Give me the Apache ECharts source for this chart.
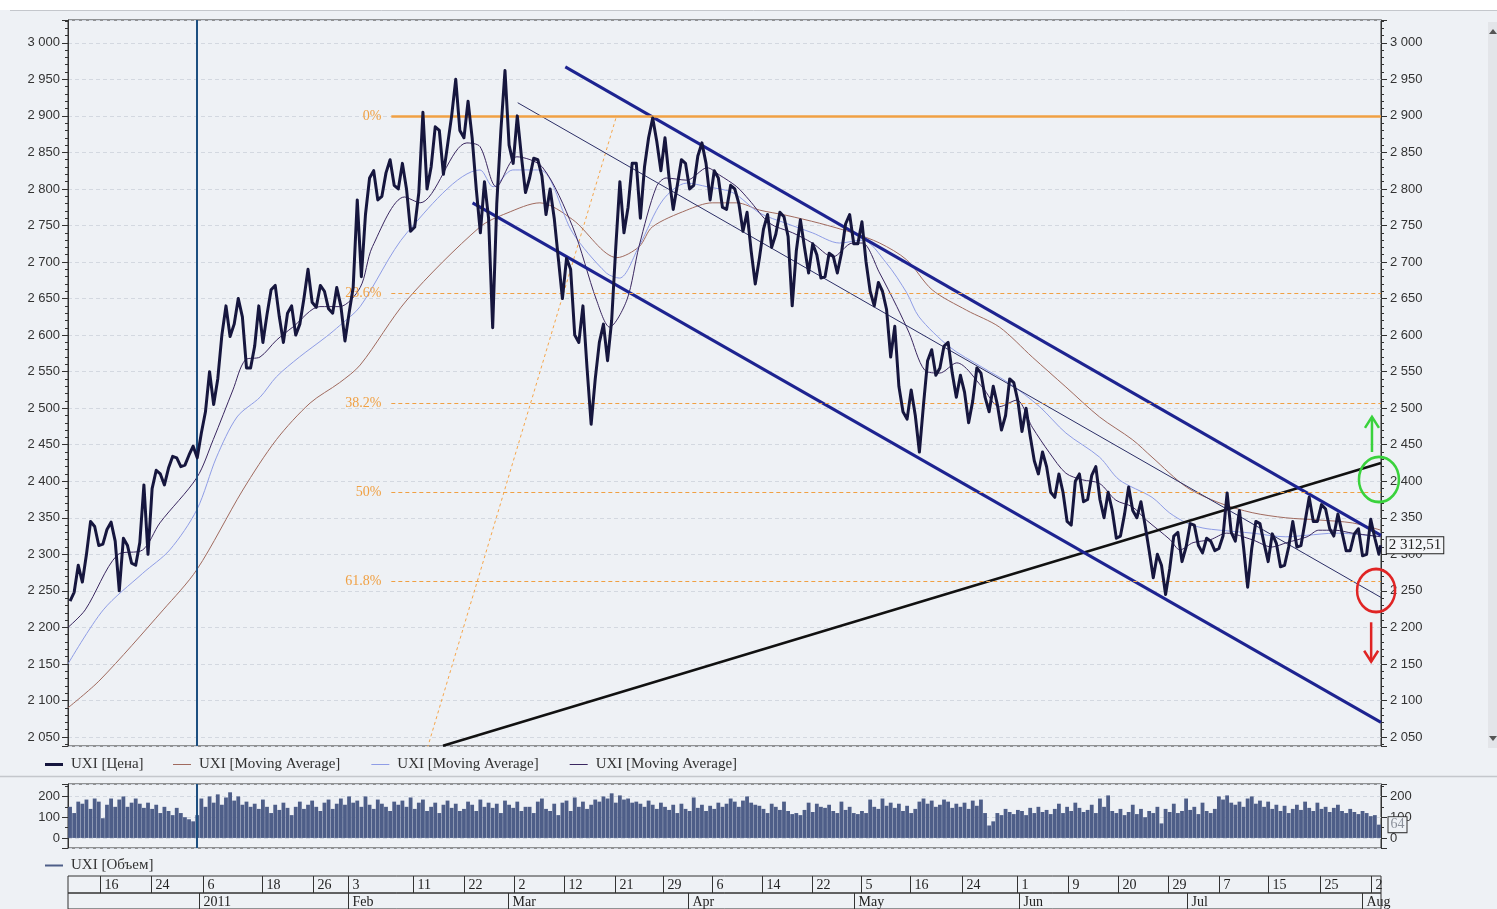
<!DOCTYPE html>
<html>
<head>
<meta charset="utf-8">
<title>UXI</title>
<script src="https://cdn.jsdelivr.net/npm/echarts@6/dist/echarts.min.js"></script>
<style>
  html, body { margin: 0; padding: 0; background: #eef1f5; }
  #chart { width: 1497px; height: 909px; }
</style>
</head>
<body>
<div id="chart"></div>
<script>
// x = bar number (about one trading day per unit), 0 .. 160
const dayLow = [
  2236, 2262, 2300, 2312, 2314, 2318, 2250, 2288, 2285, 2300,
  2390, 2395, 2418, 2420, 2422, 2432, 2466, 2505, 2540, 2598,
  2615, 2555, 2555, 2590, 2628, 2625, 2590, 2600, 2615, 2645,
  2638, 2636, 2630, 2592, 2630, 2680, 2765, 2785, 2790, 2805,
  2800, 2742, 2748, 2800, 2830, 2820, 2860, 2880, 2870, 2800,
  2740, 2610, 2780, 2860, 2835, 2795, 2815, 2818, 2765, 2705,
  2650, 2600, 2590, 2478, 2540, 2565, 2620, 2740, 2775, 2760,
  2830, 2865, 2825, 2772, 2805, 2800, 2805, 2835, 2785, 2775,
  2772, 2780, 2742, 2670, 2705, 2720, 2738, 2735, 2640, 2720,
  2685, 2678, 2680, 2685, 2712, 2725, 2725, 2660, 2640, 2635,
  2570, 2495, 2485, 2440, 2505, 2545, 2555, 2548, 2515, 2480,
  2510, 2515, 2495, 2470, 2490, 2510, 2468, 2428, 2410, 2385,
  2378, 2345, 2340, 2372, 2375, 2375, 2350, 2322, 2325, 2360,
  2350, 2305, 2268, 2245, 2280, 2290, 2310, 2312, 2302, 2305,
  2308, 2330, 2318, 2255, 2308, 2315, 2290, 2283, 2285, 2310,
  2312, 2345, 2345, 2335, 2325, 2305, 2305, 2298, 2300, 2300
];
const dayHigh = [
  2248, 2285, 2345, 2338, 2334, 2344, 2322, 2312, 2316, 2395,
  2415, 2410, 2434, 2432, 2436, 2448, 2495, 2550, 2600, 2640,
  2650, 2625, 2585, 2640, 2662, 2668, 2630, 2640, 2650, 2690,
  2668, 2660, 2665, 2640, 2665, 2785, 2815, 2825, 2822, 2840,
  2835, 2800, 2795, 2905, 2885, 2880, 2900, 2950, 2920, 2870,
  2810, 2760, 2880, 2962, 2900, 2845, 2842, 2840, 2800, 2760,
  2705, 2690, 2640, 2555, 2590, 2615, 2720, 2810, 2835, 2835,
  2870, 2897, 2870, 2815, 2840, 2835, 2845, 2863, 2825, 2815,
  2805, 2800, 2768, 2715, 2745, 2765, 2768, 2762, 2715, 2758,
  2725, 2710, 2712, 2708, 2752, 2765, 2755, 2700, 2672, 2660,
  2612, 2530, 2525, 2490, 2565, 2580, 2585, 2590, 2545, 2522,
  2555, 2548, 2530, 2505, 2540, 2535, 2500, 2462, 2440, 2420,
  2410, 2385, 2400, 2410, 2408, 2420, 2385, 2360, 2355, 2392,
  2372, 2340, 2300, 2285, 2325, 2330, 2342, 2340, 2322, 2318,
  2325, 2384, 2360, 2310, 2345, 2342, 2328, 2315, 2310, 2345,
  2345, 2378, 2368, 2362, 2355, 2330, 2328, 2335, 2348, 2322
];
const lastPrice = 2312.51;

// moving averages, [bar, value]
const maSlow = [
  [0, 2090], [3.9, 2128], [11.6, 2224], [15.7, 2279], [21.3, 2388], [25.4, 2457],
  [29.5, 2507], [33.1, 2535], [35.6, 2559], [41.3, 2648], [50.2, 2748], [53.5, 2767],
  [57.5, 2781], [61.5, 2758], [66.9, 2706], [69.6, 2721], [71.2, 2748], [75.4, 2771],
  [78.5, 2781], [81.5, 2781], [84.3, 2771], [87.5, 2764], [91.6, 2753], [95.6, 2740],
  [98.9, 2726], [102.2, 2703], [105.3, 2662], [109.5, 2634], [113.5, 2611], [117.5, 2570],
  [121.6, 2529], [125.7, 2488], [129.7, 2457], [132.1, 2433], [136.3, 2392], [140.4, 2370],
  [144.3, 2357], [148.4, 2350], [152.4, 2347], [156.5, 2343], [160, 2333]
];
const maMid = [
  [0, 2150], [4.3, 2224], [9.1, 2274], [12.4, 2306], [15.7, 2361], [18.1, 2433],
  [20.6, 2488], [23.4, 2515], [25.4, 2543], [28.2, 2570], [31.5, 2598], [33.1, 2613],
  [35.6, 2639], [41.3, 2740], [50.2, 2826], [51.8, 2803], [54.2, 2826], [57.5, 2826],
  [61.5, 2740], [65.6, 2685], [67.2, 2678], [69.6, 2722], [72.5, 2785], [75.4, 2808],
  [77.9, 2803], [81.0, 2795], [84.3, 2767], [87.5, 2753], [90.7, 2740], [94.0, 2726],
  [96.8, 2730], [99.7, 2699], [102.2, 2658], [103.7, 2625], [107.4, 2584], [111.4, 2556],
  [114.7, 2534], [118.4, 2502], [121.6, 2466], [125.7, 2433], [128.1, 2402], [132.1, 2378],
  [134.2, 2357], [136.3, 2343], [138.3, 2336], [140.4, 2333], [144.3, 2329], [148.4, 2324],
  [150.9, 2326], [154.5, 2329], [160, 2324]
];
const maFast = [
  [0, 2200], [2.1, 2224], [6.0, 2299], [9.1, 2306], [11.2, 2343], [15.7, 2405],
  [17.7, 2457], [20.1, 2525], [21.6, 2566], [23.4, 2570], [25.4, 2593], [27.4, 2611],
  [30.7, 2639], [33.1, 2639], [35.6, 2665], [37.1, 2721], [41.0, 2789], [42.9, 2781],
  [48.6, 2863], [50.2, 2858], [52.2, 2803], [54.7, 2844], [57.8, 2830], [61.5, 2748],
  [64.4, 2648], [66.0, 2611], [68.1, 2648], [69.6, 2722], [71.7, 2803], [72.9, 2815],
  [75.4, 2812], [77.9, 2829], [79.4, 2819], [81.5, 2803], [83.0, 2785], [85.5, 2753],
  [88.3, 2740], [90.7, 2726], [93.2, 2707], [95.6, 2726], [96.8, 2726], [98.9, 2685],
  [101.0, 2639], [102.5, 2603], [104.4, 2552], [106.2, 2548], [108.3, 2562], [111.4, 2529],
  [113.5, 2502], [115.6, 2511], [117.5, 2474], [119.6, 2439], [121.6, 2411], [123.6, 2402],
  [125.7, 2397], [127.7, 2374], [129.7, 2365], [131.4, 2347], [134.3, 2320], [135.5, 2306],
  [137.1, 2316], [139.2, 2320], [141.2, 2329], [144.3, 2320], [146.7, 2310], [148.5, 2316],
  [151.0, 2324], [152.4, 2333], [154.4, 2333], [156.5, 2329], [160, 2324]
];

// volume, two bars per unit
const volume = [
  150, 120, 175, 165, 185, 140, 190, 175,  95, 160, 190, 150, 185, 200, 150, 170,
  190, 165, 145, 170, 140, 160, 120, 150, 130, 110, 145, 120, 100,  90,  80, 110,
  190, 150, 200, 170, 210, 160, 195, 220, 180, 200, 160, 175, 150, 165, 140, 185,
  150, 120, 160, 135, 170, 145, 110, 150, 175, 140, 160, 180, 150, 130, 170, 185,
  140, 165, 190, 160, 200, 170, 180, 150, 200, 160, 140, 185, 165, 150, 130, 175,
  160, 180, 150, 195, 140, 170, 185, 130, 150, 170, 120, 160, 180, 145, 165, 130,
  140, 175, 160, 130, 185, 150, 170, 145, 165, 120, 180, 160, 145, 175, 130, 150,
  150, 120, 175, 190, 140, 130, 165, 110, 170, 180, 130, 195, 150, 175, 140, 160,
  185, 175, 200, 190, 215, 170, 205, 185, 190, 170, 175, 165, 150, 180, 160, 140,
  170, 150, 135, 160, 120, 165, 140, 130, 195, 145, 160, 130, 155, 140, 170, 150,
  165, 190, 175, 150, 180, 200, 170, 160, 155, 140, 120, 165, 150, 135, 175, 130,
  115, 120, 110, 135, 170, 125, 165, 150, 145, 160, 130, 120, 175, 135, 150, 120,
  115, 130, 120, 185, 150, 140, 190, 155, 170, 145, 165, 130, 155, 120, 140, 175,
  190, 165, 180, 150, 160, 185, 175, 145, 165, 150, 170, 140, 180, 155, 185, 120,
   60,  80, 120, 110, 140, 125, 115, 135, 130, 110, 145, 120, 150, 125, 135, 115,
  140, 165, 120, 150, 130, 170, 145, 125, 135, 160, 120, 190, 150, 205, 130, 120,
  140, 110, 125, 160, 115, 140, 100, 130, 120, 150,  70, 140, 125, 165, 120, 130,
  190, 135, 150, 115, 170, 130, 120, 140, 200, 185, 205, 170, 160, 175, 150, 190,
  200, 165, 180, 150, 175, 140, 160, 130, 155, 120, 140, 160, 135, 175, 145, 130,
  170, 140, 150, 125, 145, 160, 130, 120, 140, 125, 115, 130, 120, 105, 110,  64
];

// drawn lines, [bar, value] end points
const channelUpper = [[60.6, 2967], [160, 2326]];
const channelLower = [[49.3, 2781], [160, 2070]];
const channelMid = [[54.8, 2918], [160, 2241]];
const supportLine = [[45.7, 2038], [160, 2425]];
const fibDiagonal = [[39.4, 1870], [66.85, 2900]];
const fibLevels = [['0%', 2900], ['23.6%', 2657], ['38.2%', 2506.5], ['50%', 2385], ['61.8%', 2263.5]];
const signalCircles = [[159.75, 2402.5], [159.4, 2250.5]];
const signalArrows = [[158.9, 2440, 2488], [158.8, 2207, 2153]];
const yearLine = 15.7;

// date band
const dayTicks = [
  [3.9, '16'], [10.1, '24'], [16.4, '6'], [23.7, '18'], [29.8, '26'], [34.1, '3'],
  [42.0, '11'], [48.2, '22'], [54.4, '2'], [60.5, '12'], [66.6, '21'], [72.5, '29'],
  [78.5, '6'], [84.6, '14'], [90.7, '22'], [96.6, '5'], [102.6, '16'], [108.9, '24'],
  [115.7, '1'], [121.9, '9'], [128.0, '20'], [134.1, '29'], [140.2, '7'], [146.2, '15'],
  [152.6, '25'], [158.8, '2']
];
const monthTicks = [
  [16.0, '2011'], [34.1, 'Feb'], [53.6, 'Mar'], [75.5, 'Apr'],
  [95.8, 'May'], [115.9, 'Jun'], [136.3, 'Jul'], [157.7, 'Aug']
];

const Y_MIN = 2037.7, Y_MAX = 3031.2;
const V_MIN = -48.5, V_MAX = 260;
const SERIF = '"Liberation Serif", "DejaVu Serif", serif';
const SANS = '"Liberation Sans", Arial, sans-serif';
const MA = 'UXI [Moving Average]';

function fmt (n) {
  return String(Math.round(n)).replace(/\B(?=(\d{3})+(?!\d))/g, ' ');
}

// build the intraday-looking path: low/high per bar, order alternating
let pricePath = [];
dayLow.forEach((lo, i) => {
  let hi = dayHigh[i];
  let a = i % 2 === 0 ? lo : hi;
  let b = i % 2 === 0 ? hi : lo;
  pricePath.push([i + 0.25, a], [i + 0.75, b]);
});
pricePath.push([159.97, lastPrice]);

let volumeBars = volume.map((v, i) => [i * 0.5 + 0.25, v]);

let chart = echarts.init(document.getElementById('chart'));

function valueAxis (grid, min, max, split, minor, right, labelFmt) {
  return {
    type: 'value', gridIndex: grid, min: min, max: max, splitNumber: split,
    position: right ? 'right' : 'left',
    axisLine: { show: true, lineStyle: { color: '#333' } },
    axisTick: { show: true, length: 6, lineStyle: { color: '#333' } },
    minorTick: { show: true, splitNumber: minor, length: 3, lineStyle: { color: '#333' } },
    axisLabel: {
      showMinLabel: false, showMaxLabel: false, margin: right ? 9 : 8,
      color: '#333', fontSize: 13, fontFamily: SANS, formatter: labelFmt
    },
    splitLine: { show: !right, lineStyle: { color: '#d3d8e0', type: [4, 3] } }
  };
}
let priceLabel = v => (Math.abs(v % 50) < 1e-6 ? fmt(v) : '');
let volLabel = v => (Math.abs(v % 100) < 1e-6 ? fmt(v) : '');

function tickRenderer (list) {
  return function (params, api) {
    let cs = params.coordSys;
    let x = Math.round(api.coord([api.value(0), 0.5])[0]) + 0.5;
    return {
      type: 'group',
      children: [
        { type: 'line', shape: { x1: x, y1: cs.y, x2: x, y2: cs.y + cs.height },
          style: { stroke: '#333', lineWidth: 1 } },
        { type: 'text', style: {
            text: list[params.dataIndex][1], x: x + 4, y: cs.y + 9,
            verticalAlign: 'middle', font: '14px ' + SERIF, fill: '#222' } }
      ]
    };
  };
}

function lineSeries (name, data, color, width, extra) {
  return Object.assign({
    name: name, type: 'line', data: data, xAxisIndex: 0, yAxisIndex: 0,
    symbol: 'none', clip: true, silent: true,
    lineStyle: { color: color, width: width }, itemStyle: { color: color }
  }, extra || {});
}

let legendText = { fontFamily: SERIF, fontSize: 15, color: '#333', padding: [0, 0, 0, 3] };

let option = {
  animation: false,
  backgroundColor: '#eef1f5',
  graphic: [
    { type: 'rect', shape: { x: 0, y: 0, width: 1497, height: 10 }, style: { fill: '#fff' } },
    { type: 'line', shape: { x1: 10, y1: 10.5, x2: 1497, y2: 10.5 }, style: { stroke: '#c4c7cc', lineWidth: 1 } },
    { type: 'line', shape: { x1: 0, y1: 776.5, x2: 1497, y2: 776.5 }, style: { stroke: '#c4c7cc', lineWidth: 1.5 } },
    { type: 'rect', shape: { x: 1488, y: 22, width: 9, height: 726 }, style: { fill: '#e3e5e9' } },
    { type: 'polygon', shape: { points: [[1489, 34], [1493, 29], [1497, 34]] }, style: { fill: '#555' } },
    { type: 'polygon', shape: { points: [[1489, 736], [1493, 741], [1497, 736]] }, style: { fill: '#555' } }
  ],
  legend: [
    {
      left: 40, top: 752, itemWidth: 18, itemHeight: 3, icon: 'rect',
      textStyle: legendText, data: ['UXI [Цена]']
    },
    {
      left: 168, top: 752, itemWidth: 18, itemHeight: 1, icon: 'rect', itemGap: 31,
      textStyle: legendText, data: [MA, MA + '\u200b', MA + '\u200b\u200b']
    },
    {
      left: 40, top: 853, itemWidth: 18, itemHeight: 2, icon: 'rect',
      textStyle: legendText, data: ['UXI [Объем]']
    }
  ],
  grid: [
    { left: 68, right: 116, top: 20, height: 726, show: true, borderColor: '#333', borderWidth: 1 },
    { left: 68, right: 116, top: 784, height: 64, show: true, borderColor: '#333', borderWidth: 1 },
    { left: 68, right: 116, top: 876, height: 17, show: true, borderColor: '#333', borderWidth: 1 },
    { left: 68, right: 116, top: 893, height: 20, show: true, borderColor: '#333', borderWidth: 1 }
  ],
  xAxis: [0, 1, 2, 3].map(g => ({ type: 'value', gridIndex: g, min: 0, max: 160, show: false })),
  yAxis: [
    valueAxis(0, Y_MIN, Y_MAX, 20, 5, false, priceLabel),
    valueAxis(0, Y_MIN, Y_MAX, 20, 5, true, priceLabel),
    valueAxis(1, V_MIN, V_MAX, 3, 2, false, volLabel),
    valueAxis(1, V_MIN, V_MAX, 3, 2, true, volLabel),
    { type: 'value', gridIndex: 2, min: 0, max: 1, show: false },
    { type: 'value', gridIndex: 3, min: 0, max: 1, show: false }
  ],
  series: [
    // fibonacci retracement
    lineSeries('fib', fibDiagonal, '#f5a54a', 1, {
      lineStyle: { color: '#f5a54a', width: 1, type: [3, 3] },
      markLine: {
        silent: true, symbol: ['none', 'none'],
        data: fibLevels.map((f, i) => [
          { coord: [fibDiagonal[0][0], f[1]], name: f[0],
            lineStyle: i === 0
              ? { color: '#f0a043', width: 2.5, type: 'solid' }
              : { color: '#f0a043', width: 1, type: [4, 3] } },
          { coord: [160, f[1]] }
        ]),
        label: {
          show: true, position: 'start', distance: 10, formatter: '{b}',
          color: '#f0a043', fontFamily: SERIF, fontSize: 14
        }
      }
    }),
    lineSeries(MA, maSlow, '#a06a5e', 1, { smooth: 0.3 }),
    lineSeries(MA + '\u200b', maMid, '#8f9de6', 1, { smooth: 0.3 }),
    lineSeries(MA + '\u200b\u200b', maFast, '#3a2760', 1, { smooth: 0.3 }),
    lineSeries('channelMid', channelMid, '#2b2e66', 1),
    lineSeries('support', supportLine, '#111111', 2.5),
    lineSeries('channelUpper', channelUpper, '#1d2390', 3),
    lineSeries('channelLower', channelLower, '#1d2390', 3),
    lineSeries('UXI [Цена]', pricePath, '#16163e', 3, {
      z: 5,
      lineStyle: { color: '#16163e', width: 3, join: 'round' },
      markLine: {
        silent: true, symbol: ['none', 'none'], label: { show: false },
        lineStyle: { color: '#1d4f80', width: 2, type: 'solid' },
        data: [{ xAxis: yearLine }]
      },
      endLabel: {
        show: true, distance: 6, formatter: () => fmt(Math.floor(lastPrice)) + ',' + lastPrice.toFixed(2).split('.')[1],
        fontFamily: SERIF, fontSize: 15, color: '#222', backgroundColor: '#f3f5f8',
        borderColor: '#222', borderWidth: 1, padding: [1, 2, 0, 2]
      }
    }),
    // hand-drawn signal marks
    {
      name: 'signals', type: 'custom', xAxisIndex: 0, yAxisIndex: 0, silent: true, z: 6,
      data: signalCircles,
      renderItem: function (params, api) {
        let c = api.coord([api.value(0), api.value(1)]);
        let arrow = signalArrows[params.dataIndex];
        let color = params.dataIndex === 0 ? '#39d23c' : '#e02424';
        let p1 = api.coord([arrow[0], arrow[1]]);
        let p2 = api.coord([arrow[0], arrow[2]]);
        let dir = p2[1] < p1[1] ? 1 : -1;
        return {
          type: 'group',
          children: [
            { type: 'circle', x: c[0], y: c[1], scaleY: 1.13,
              shape: { cx: 0, cy: 0, r: params.dataIndex === 0 ? 20 : 19 },
              style: { fill: 'none', stroke: color, lineWidth: 2.5 } },
            { type: 'line', shape: { x1: p1[0], y1: p1[1], x2: p2[0], y2: p2[1] },
              style: { stroke: color, lineWidth: 2.5 } },
            { type: 'polyline',
              shape: { points: [[p2[0] - 7, p2[1] + dir * 11], [p2[0], p2[1]], [p2[0] + 7, p2[1] + dir * 11]] },
              style: { stroke: color, lineWidth: 2.5, fill: 'none' } }
          ]
        };
      }
    },
    {
      name: 'UXI [Объем]', type: 'bar', xAxisIndex: 1, yAxisIndex: 2,
      data: volumeBars, barWidth: 3.8, silent: true,
      itemStyle: { color: '#4e5e88' },
      markLine: {
        silent: true, symbol: ['none', 'none'], label: { show: false },
        lineStyle: { color: '#1d4f80', width: 2, type: 'solid' },
        data: [{ xAxis: yearLine }]
      },
      markPoint: {
        silent: true, symbol: 'rect', symbolSize: 1, itemStyle: { color: 'rgba(0,0,0,0)' },
        data: [{ coord: [160, volume[volume.length - 1]] }],
        label: {
          show: true, position: 'right', distance: 7, formatter: () => String(volume[volume.length - 1]),
          fontFamily: SERIF, fontSize: 14, color: '#8a8f99', backgroundColor: '#eef1f5',
          borderColor: '#333', borderWidth: 1, padding: [1, 2, 0, 2]
        }
      }
    },
    {
      name: 'days', type: 'custom', xAxisIndex: 2, yAxisIndex: 4, silent: true,
      data: dayTicks.map(d => [d[0], 0.5]), renderItem: tickRenderer(dayTicks)
    },
    {
      name: 'months', type: 'custom', xAxisIndex: 3, yAxisIndex: 5, silent: true,
      data: monthTicks.map(d => [d[0], 0.5]), renderItem: tickRenderer(monthTicks)
    }
  ]
};

chart.setOption(option);
</script>
</body>
</html>
